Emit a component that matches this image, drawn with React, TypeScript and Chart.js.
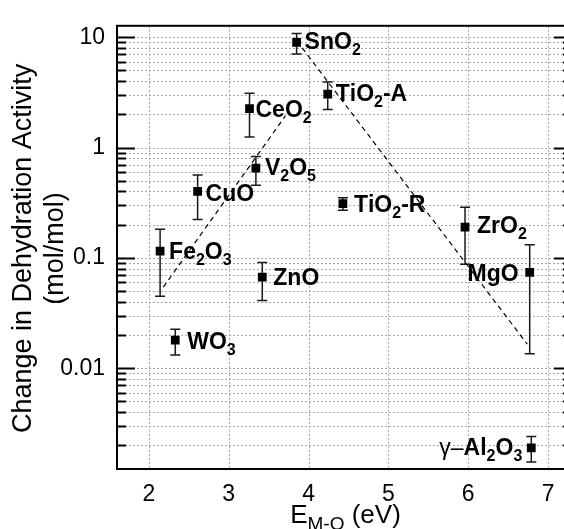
import React, { useEffect, useRef } from 'react';
import { Chart, registerables } from 'chart.js';

Chart.register(...registerables);

// ---------- data ----------
const oxideLabels = ['SnO_2', 'TiO_2-A', 'CeO_2', 'V_2O_5', 'CuO', 'Fe_2O_3', 'ZnO', 'WO_3', 'TiO_2-R', 'ZrO_2', 'MgO', 'γ–Al_2O_3'];
const bondEnergy = [3.85, 4.24, 3.26, 3.34, 2.61, 2.14, 3.42, 2.33, 4.43, 5.96, 6.77, 6.79];
const activityChange = [9.0, 3.05, 2.25, 0.65, 0.40, 0.115, 0.067, 0.018, 0.31, 0.19, 0.074, 0.0019];
const errorLow = [7.05, 2.21, 1.25, 0.455, 0.223, 0.045, 0.041, 0.0132, 0.27, 0.0875, 0.0135, 0.00141];
const errorHigh = [10.8, 3.94, 3.11, 0.83, 0.565, 0.182, 0.091, 0.0226, 0.351, 0.288, 0.1315, 0.0024];

const fitLowX = [2.18, 3.71];
const fitLowY = [0.0543, 1.94];
const fitHighX = [3.92, 6.74];
const fitHighY = [8.0, 0.0165];

const xTickValues = [2, 3, 4, 5, 6, 7];
const yTickValues = [0.01, 0.1, 1, 10];
const yTickLabels = ['0.01', '0.1', '1', '10'];
const xRange = [1.6, 7.3];
const yRange = [0.00122, 12.7];

const yTitleLines = ['Change in Dehydration Activity', '(mol/mol)'];
const xTitleMain = 'E';
const xTitleSub = 'M-O';
const xTitleRest = ' (eV)';

// ---------- label styling (pixel offsets from the marker) ----------
const labelSide = ['r', 'r', 'r', 'r', 'r', 'r', 'r', 'r', 'r', 'r', 'l', 'l'];
const labelDx = [8, 8, 6, 9, 8, 9, 11, 12, 11, 12, -11, -9];
const labelDy = [7, 7, 8, 7, 10, 8, 8, 9, 8, 6, 9, 7];

const FONT = '"Liberation Sans", Arial, Helvetica, sans-serif';

function minorLogValues(min: number, max: number): number[] {
  const out: number[] = [];
  for (let e = Math.floor(Math.log10(min)); e <= Math.ceil(Math.log10(max)); e++) {
    for (let k = 1; k <= 9; k++) {
      const v = k * Math.pow(10, e);
      if (v >= min * 0.9999 && v <= max * 1.0001) out.push(Number(v.toPrecision(6)));
    }
  }
  return out;
}

function isDecade(v: number) {
  const l = Math.log10(v);
  return Math.abs(l - Math.round(l)) < 1e-6;
}

function drawRich(ctx: CanvasRenderingContext2D, text: string, x: number, y: number, side: string,
  size: number, subSize: number, subDrop: number) {
  const segs: { t: string; sub: boolean; bold: boolean }[] = [];
  for (let i = 0; i < text.length; i++) {
    const c = text[i];
    if (c === '_') { segs.push({ t: text[i + 1], sub: true, bold: true }); i++; }
    else segs.push({ t: c, sub: false, bold: !(c === 'γ' || c === '–') });
  }
  const fontOf = (s: { sub: boolean; bold: boolean }) =>
    `${s.bold ? 'bold ' : ''}${s.sub ? subSize : size}px ${FONT}`;
  let total = 0;
  const widths = segs.map((s) => { ctx.font = fontOf(s); const w = ctx.measureText(s.t).width; total += w; return w; });
  let cx = side === 'l' ? x - total : x;
  ctx.textAlign = 'left';
  ctx.textBaseline = 'alphabetic';
  segs.forEach((s, i) => {
    ctx.font = fontOf(s);
    ctx.fillText(s.t, cx, y + (s.sub ? subDrop : 0));
    cx += widths[i];
  });
}

const decorPlugin = {
  id: 'decor',
  beforeDatasetsDraw(chart: any) {
    const { ctx, chartArea: a, scales } = chart;
    const xs = scales.x, ys = scales.y;
    ctx.save();
    // dotted grid
    ctx.strokeStyle = '#a8a8a8';
    ctx.lineWidth = 1;
    ctx.setLineDash([2, 2]);
    ys.ticks.forEach((t: any) => {
      const py = Math.round(ys.getPixelForValue(t.value)) + 0.5;
      ctx.beginPath(); ctx.moveTo(a.left, py); ctx.lineTo(a.right, py); ctx.stroke();
    });
    xs.ticks.forEach((t: any) => {
      const px = Math.round(xs.getPixelForValue(t.value)) + 0.5;
      ctx.beginPath(); ctx.moveTo(px, a.top); ctx.lineTo(px, a.bottom); ctx.stroke();
    });
    ctx.setLineDash([]);
    // error bars
    ctx.strokeStyle = '#1a1a1a';
    ctx.lineWidth = 1.5;
    bondEnergy.forEach((e, i) => {
      const px = xs.getPixelForValue(e);
      const pt = ys.getPixelForValue(errorHigh[i]);
      const pb = ys.getPixelForValue(errorLow[i]);
      ctx.beginPath();
      ctx.moveTo(px, pt); ctx.lineTo(px, pb);
      ctx.moveTo(px - 5, pt); ctx.lineTo(px + 5, pt);
      ctx.moveTo(px - 5, pb); ctx.lineTo(px + 5, pb);
      ctx.stroke();
    });
    ctx.restore();
  },
  afterDatasetsDraw(chart: any) {
    const { ctx, chartArea: a, scales } = chart;
    const xs = scales.x, ys = scales.y;
    ctx.save();
    ctx.fillStyle = '#000';
    // point labels
    oxideLabels.forEach((lab, i) => {
      const px = xs.getPixelForValue(bondEnergy[i]);
      const py = ys.getPixelForValue(activityChange[i]);
      drawRich(ctx, lab, px + labelDx[i], py + labelDy[i], labelSide[i], 23, 16, 6);
    });
    // inward ticks on left and right
    ctx.strokeStyle = '#000';
    ctx.lineWidth = 2;
    ys.ticks.forEach((t: any) => {
      const py = Math.round(ys.getPixelForValue(t.value)) + 0.5;
      const len = isDecade(t.value) ? 18 : 9;
      ctx.beginPath();
      ctx.moveTo(a.left, py); ctx.lineTo(a.left + len, py);
      ctx.moveTo(a.right, py); ctx.lineTo(a.right - len, py);
      ctx.stroke();
    });
    // frame
    ctx.lineWidth = 2;
    ctx.strokeRect(a.left, a.top, a.right - a.left, a.bottom - a.top);
    // y title
    ctx.save();
    ctx.translate(0, (a.top + a.bottom) / 2 + 1);
    ctx.rotate(-Math.PI / 2);
    ctx.font = `27px ${FONT}`;
    ctx.textAlign = 'center';
    ctx.textBaseline = 'alphabetic';
    ctx.fillText(yTitleLines[0], 0, 31);
    ctx.fillText(yTitleLines[1], 0, 63);
    ctx.restore();
    // x title with subscript
    const mainF = `26px ${FONT}`, subF = `19px ${FONT}`;
    ctx.font = mainF; const w1 = ctx.measureText(xTitleMain).width; const w3 = ctx.measureText(xTitleRest).width;
    ctx.font = subF; const w2 = ctx.measureText(xTitleSub).width;
    const cx = (a.left + a.right) / 2 + 1;
    let sx = cx - (w1 + w2 + w3) / 2;
    const base = 523;
    ctx.textAlign = 'left';
    ctx.font = mainF; ctx.fillText(xTitleMain, sx, base); sx += w1;
    ctx.font = subF; ctx.fillText(xTitleSub, sx, base + 7); sx += w2;
    ctx.font = mainF; ctx.fillText(xTitleRest, sx, base);
    ctx.restore();
  },
};

export default function App() {
  const ref = useRef<HTMLCanvasElement>(null);
  useEffect(() => {
    const canvas = ref.current;
    if (!canvas) return;
    const yGrid = minorLogValues(yRange[0], yRange[1]);
    const chart = new Chart(canvas, {
      type: 'scatter',
      data: {
        datasets: [
          {
            type: 'line',
            data: fitLowX.map((x, i) => ({ x, y: fitLowY[i] })),
            borderColor: '#000',
            borderWidth: 1.2,
            borderDash: [5, 4],
            pointRadius: 0,
            fill: false,
          } as any,
          {
            type: 'line',
            data: fitHighX.map((x, i) => ({ x, y: fitHighY[i] })),
            borderColor: '#000',
            borderWidth: 1.2,
            borderDash: [5, 4],
            pointRadius: 0,
            fill: false,
          } as any,
          {
            type: 'scatter',
            data: bondEnergy.map((x, i) => ({ x, y: activityChange[i] })),
            pointStyle: 'rect',
            pointRadius: 6.2,
            backgroundColor: '#000',
            borderColor: '#000',
            borderWidth: 0,
          } as any,
        ],
      },
      options: {
        responsive: false,
        animation: false,
        events: [],
        layout: { padding: { top: 15, right: 10, left: 0, bottom: 0 } },
        plugins: { legend: { display: false }, tooltip: { enabled: false }, title: { display: false } },
        scales: {
          x: {
            type: 'linear',
            min: xRange[0],
            max: xRange[1],
            afterBuildTicks: (s: any) => { s.ticks = xTickValues.map((v) => ({ value: v })); },
            afterFit: (s: any) => { s.height = 60; },
            grid: { display: false, drawTicks: false },
            border: { display: false },
            ticks: {
              autoSkip: false,
              maxRotation: 0,
              padding: 12,
              color: '#000',
              font: { family: FONT, size: 23 },
              callback: (v: any) => String(v),
            },
          },
          y: {
            type: 'logarithmic',
            min: yRange[0],
            max: yRange[1],
            afterBuildTicks: (s: any) => { s.ticks = yGrid.map((v) => ({ value: v })); },
            afterFit: (s: any) => { s.width = 117; },
            grid: { display: false, drawTicks: false },
            border: { display: false },
            ticks: {
              autoSkip: false,
              padding: 12,
              color: '#000',
              font: { family: FONT, size: 23 },
              callback: (v: any) => {
                const idx = yTickValues.findIndex((t) => Math.abs(Math.log10(t) - Math.log10(Number(v))) < 1e-6);
                return idx >= 0 ? yTickLabels[idx] : '';
              },
            },
          },
        },
      },
      plugins: [decorPlugin],
    } as any);
    return () => chart.destroy();
  }, []);
  return (
    <div style={{ position: 'fixed', left: 0, top: 0, width: 564, height: 529, overflow: 'hidden', background: '#fff' }}>
      <canvas ref={ref} width={582} height={529} style={{ width: 582, height: 529, display: 'block' }} />
    </div>
  );
}
